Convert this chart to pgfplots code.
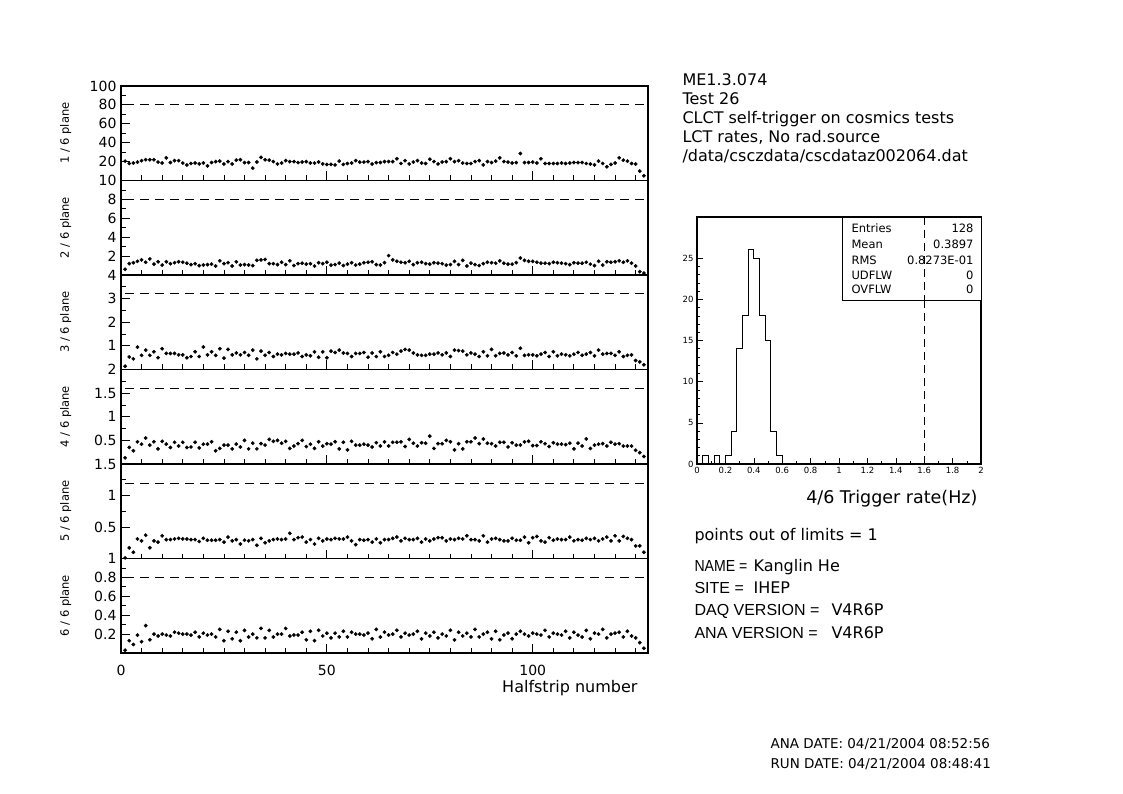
\documentclass[border=0pt]{standalone}
\usepackage{fontspec}
\setmainfont{DejaVu Sans}
\newfontfamily\capsfont{Liberation Sans}
\usepackage{graphicx}
\usepackage{pgfplots}
\pgfplotsset{compat=1.18}
\usepackage{pgfplotstable}

\newcommand\fA{\fontsize{16}{19}\selectfont}
\newcommand\fX{\fontsize{17.5}{19}\selectfont}
\newcommand\fB{\fontsize{14}{16}\selectfont}
\newcommand\fL{\fontsize{11.5}{13}\selectfont}
\newcommand\fS{\fontsize{8.5}{10}\selectfont}
\newcommand\fT{\fontsize{11.5}{13}\selectfont}
\newcommand\fD{\fontsize{13.5}{15}\selectfont}

% halfstrip rates for the six plane multiplicities
\pgfplotstableread{
x p1 p2 p3 p4 p5 p6
1 20.5 0.60 0.14 0.13 0.01 0.03
2 18 1.20 0.53 0.35 0.17 0.13
3 18.5 1.30 0.45 0.28 0.10 0.09
4 19.5 1.45 0.95 0.47 0.31 0.19
5 21 1.60 0.60 0.42 0.28 0.12
6 22 1.35 0.82 0.55 0.37 0.29
7 22 1.70 0.60 0.40 0.17 0.14
8 22 1.15 0.75 0.47 0.28 0.20
9 19.5 1.40 0.50 0.32 0.26 0.18
10 18.5 1.05 0.88 0.48 0.36 0.20
11 24 1.40 0.68 0.42 0.30 0.19
12 19 1.20 0.68 0.35 0.30 0.18
13 21 1.30 0.68 0.46 0.31 0.22
14 21 1.40 0.62 0.38 0.32 0.21
15 18.5 1.35 0.62 0.46 0.31 0.20
16 16.5 1.25 0.50 0.35 0.31 0.20
17 18 1.10 0.55 0.36 0.30 0.19
18 18.5 1.20 0.75 0.46 0.30 0.22
19 17.5 1.00 0.55 0.34 0.27 0.17
20 18.5 1.05 0.95 0.42 0.32 0.21
21 15.5 1.10 0.62 0.42 0.29 0.19
22 19 1.15 0.75 0.47 0.29 0.20
23 20 0.95 0.60 0.28 0.29 0.17
24 20.5 1.50 0.88 0.33 0.30 0.25
25 17.5 1.20 0.48 0.40 0.26 0.13
26 20 1.30 0.85 0.40 0.34 0.23
27 17.5 0.95 0.62 0.32 0.28 0.15
28 21.5 1.40 0.70 0.42 0.30 0.22
29 22 1.05 0.62 0.36 0.23 0.13
30 19 1.10 0.72 0.50 0.29 0.24
31 19 1.05 0.60 0.32 0.28 0.17
32 13 1.00 0.82 0.44 0.30 0.20
33 19.5 1.55 0.45 0.32 0.21 0.16
34 24.5 1.60 0.78 0.43 0.32 0.26
35 22 1.65 0.60 0.40 0.25 0.16
36 21.5 1.20 0.72 0.52 0.28 0.24
37 20 1.20 0.55 0.48 0.30 0.17
38 17.5 1.10 0.65 0.50 0.31 0.20
39 18.5 1.35 0.62 0.44 0.30 0.20
40 21 1.10 0.68 0.48 0.31 0.26
41 20 1.50 0.65 0.33 0.40 0.18
42 20 1.00 0.65 0.38 0.30 0.19
43 19 1.20 0.70 0.43 0.33 0.19
44 19.5 1.25 0.55 0.50 0.34 0.22
45 20 1.15 0.62 0.37 0.26 0.14
46 18.5 1.20 0.58 0.42 0.30 0.23
47 18.5 0.95 0.75 0.33 0.23 0.13
48 19.5 1.30 0.52 0.47 0.32 0.24
49 17.5 1.20 0.75 0.38 0.28 0.18
50 17 1.35 0.50 0.43 0.31 0.21
51 17 1.05 0.78 0.42 0.30 0.16
52 16.5 1.10 0.72 0.47 0.32 0.21
53 20.5 1.25 0.82 0.32 0.31 0.17
54 17 1.00 0.70 0.46 0.31 0.23
55 18 1.15 0.68 0.30 0.34 0.17
56 18.5 1.30 0.55 0.48 0.28 0.22
57 21 1.05 0.68 0.40 0.22 0.20
58 19.5 1.15 0.68 0.40 0.30 0.20
59 19.5 1.30 0.72 0.42 0.29 0.19
60 20 1.35 0.52 0.40 0.30 0.21
61 17.5 1.40 0.70 0.36 0.26 0.15
62 19 1.10 0.55 0.45 0.31 0.25
63 19 1.05 0.75 0.38 0.25 0.17
64 20 1.30 0.55 0.47 0.30 0.22
65 20 2.05 0.60 0.38 0.30 0.19
66 20 1.60 0.72 0.46 0.32 0.20
67 23 1.45 0.65 0.46 0.34 0.24
68 18 1.35 0.78 0.47 0.28 0.17
69 21 1.30 0.85 0.37 0.32 0.21
70 17.5 1.45 0.82 0.52 0.30 0.19
71 19.5 1.10 0.70 0.44 0.30 0.20
72 21 1.30 0.62 0.38 0.32 0.23
73 18.5 1.35 0.60 0.45 0.26 0.15
74 18 1.20 0.60 0.44 0.31 0.21
75 22.5 1.15 0.65 0.59 0.28 0.18
76 20 1.30 0.65 0.33 0.31 0.22
77 17.5 1.25 0.70 0.43 0.33 0.16
78 19.5 1.20 0.62 0.43 0.33 0.20
79 20 1.05 0.70 0.50 0.28 0.18
80 23 1.10 0.55 0.47 0.31 0.24
81 20 1.45 0.82 0.30 0.30 0.14
82 21 1.10 0.80 0.43 0.32 0.22
83 18.5 1.55 0.78 0.32 0.31 0.18
84 18 0.95 0.62 0.47 0.36 0.21
85 18 1.25 0.70 0.47 0.30 0.17
86 20 1.10 0.65 0.55 0.30 0.25
87 21 1.00 0.55 0.43 0.28 0.17
88 16.5 1.20 0.75 0.53 0.36 0.20
89 20 1.35 0.58 0.44 0.26 0.22
90 19 1.30 0.85 0.43 0.31 0.15
91 20.5 1.25 0.58 0.38 0.32 0.23
92 24 1.50 0.68 0.46 0.30 0.14
93 20 1.25 0.70 0.46 0.28 0.19
94 19.5 1.15 0.62 0.36 0.28 0.21
95 18.5 1.15 0.72 0.45 0.32 0.15
96 19 1.30 0.58 0.40 0.29 0.20
97 28.5 1.80 0.90 0.40 0.29 0.23
98 19 1.55 0.60 0.47 0.34 0.20
99 19 1.45 0.62 0.48 0.25 0.18
100 19.5 1.45 0.62 0.39 0.33 0.21
101 18.5 1.35 0.58 0.39 0.35 0.20
102 23 1.25 0.65 0.47 0.28 0.19
103 18 1.25 0.72 0.43 0.26 0.24
104 18 1.20 0.55 0.37 0.33 0.17
105 18 1.35 0.75 0.45 0.29 0.21
106 18 1.30 0.58 0.42 0.31 0.20
107 18.5 1.25 0.65 0.42 0.30 0.19
108 18 1.20 0.62 0.41 0.30 0.23
109 18.5 1.10 0.58 0.44 0.34 0.16
110 19 1.30 0.65 0.32 0.28 0.22
111 19 1.25 0.72 0.44 0.30 0.19
112 19 1.25 0.60 0.38 0.29 0.17
113 18 1.35 0.65 0.53 0.32 0.24
114 17.5 1.15 0.72 0.33 0.30 0.15
115 16.5 1.00 0.58 0.40 0.32 0.21
116 20.5 1.45 0.82 0.42 0.28 0.20
117 18 1.05 0.65 0.43 0.31 0.25
118 14.5 1.40 0.68 0.38 0.34 0.16
119 17 1.35 0.68 0.46 0.28 0.20
120 18.5 1.40 0.60 0.42 0.36 0.21
121 24 1.50 0.75 0.43 0.28 0.22
122 21.5 1.35 0.55 0.38 0.35 0.17
123 20.5 1.50 0.60 0.38 0.32 0.23
124 18 1.25 0.62 0.38 0.30 0.18
125 17.5 0.95 0.38 0.29 0.20 0.16
126 10 0.35 0.32 0.24 0.20 0.11
127 5 0.20 0.20 0.16 0.10 0.05
}\rates

\pgfplotsset{
  plane/.style={
    scale only axis, width=527pt, height=94.5pt,
    xmin=0, xmax=128, ymin=0, clip=false,
    axis line style={line width=1.4pt},
    xtick={0,50,100},
    minor xtick={5,10,15,20,25,30,35,40,45,55,60,65,70,75,80,85,90,95,105,110,115,120,125},
    xtick pos=lower, ytick pos=left, tick align=inside,
    major tick length=9pt, minor tick length=5pt,
    every tick/.style={black, line width=0.8pt},
    xticklabels={}, minor y tick num=1,
    yticklabel style={font=\fB, xshift=-1pt},
    every axis y label/.style={at={(axis description cs:-0.105,0.5)}, rotate=90, anchor=center, font=\fL},
  },
  dots/.style={only marks, mark=*, mark size=1.7pt, black},
  limit/.style={black, line width=0.8pt, dash pattern=on 9pt off 6pt},
}

\begin{document}
\begin{tikzpicture}[x=1pt,y=1pt]
\useasboundingbox (0,0) rectangle (1123,793);
\fill[white] (0,0) rectangle (1123,793);

% the zero of each panel sits under the top label of the panel below
\begin{axis}[plane, at={(121pt,707pt)}, anchor=north west, ymax=100,
  ytick={20,40,60,80,100}, yticklabels={20,40,60,80,100}, ylabel={1 / 6 plane}]
  \addplot[limit] coordinates {(1,80) (128,80)};
  \addplot[dots] table[x=x, y=p1] {\rates};
\end{axis}

\begin{axis}[plane, at={(121pt,612.5pt)}, anchor=north west, ymax=10,
  ytick={2,4,6,8,10}, yticklabels={2,4,6,8,10}, ylabel={2 / 6 plane}]
  \addplot[limit] coordinates {(1,8) (128,8)};
  \addplot[dots] table[x=x, y=p2] {\rates};
\end{axis}

\begin{axis}[plane, at={(121pt,518pt)}, anchor=north west, ymax=4,
  ytick={1,2,3,4}, yticklabels={1,2,3,4}, ylabel={3 / 6 plane}]
  \addplot[limit] coordinates {(1,3.2) (128,3.2)};
  \addplot[dots] table[x=x, y=p3] {\rates};
\end{axis}

\begin{axis}[plane, at={(121pt,423.5pt)}, anchor=north west, ymax=2,
  ytick={0.5,1,1.5,2}, yticklabels={0.5,1,1.5,2}, ylabel={4 / 6 plane}]
  \addplot[limit] coordinates {(1,1.6) (128,1.6)};
  \addplot[dots] table[x=x, y=p4] {\rates};
\end{axis}

\begin{axis}[plane, at={(121pt,329pt)}, anchor=north west, ymax=1.5,
  ytick={0.5,1,1.5}, yticklabels={0.5,1,1.5}, ylabel={5 / 6 plane}]
  \addplot[limit] coordinates {(1,1.2) (128,1.2)};
  \addplot[dots] table[x=x, y=p5] {\rates};
\end{axis}

\begin{axis}[plane, at={(121pt,234.5pt)}, anchor=north west, ymax=1,
  ytick={0.2,0.4,0.6,0.8,1}, yticklabels={0.2,0.4,0.6,0.8,1}, ylabel={6 / 6 plane},
  xticklabels={0,50,100}, xticklabel style={font=\fB, yshift=-9pt}]
  \addplot[limit] coordinates {(1,0.8) (128,0.8)};
  \addplot[dots] table[x=x, y=p6] {\rates};
\end{axis}
\node[anchor=base east, font=\fA] at (641,101) {Halfstrip number};

% 4/6 trigger rate distribution
\begin{axis}[scale only axis, at={(697pt,329pt)}, anchor=south west, width=284pt, height=247pt,
  xmin=0, xmax=2, ymin=0, ymax=30,
  axis line style={line width=1.1pt},
  xtick={0,0.2,0.4,0.6,0.8,1,1.2,1.4,1.6,1.8,2},
  xticklabels={0,0.2,0.4,0.6,0.8,1,1.2,1.4,1.6,1.8,2},
  ytick={0,5,10,15,20,25}, yticklabels={0,5,10,15,20,25},
  minor x tick num=1, minor y tick num=4,
  xtick pos=lower, ytick pos=left, tick align=inside,
  major tick length=6pt, minor tick length=3pt,
  every tick/.style={black, line width=0.6pt},
  ticklabel style={font=\fS}]
  \addplot[const plot, black, line width=0.9pt] coordinates {
    (0,0) (0.04,1) (0.08,0) (0.12,1) (0.16,0) (0.20,1) (0.24,4) (0.28,14)
    (0.32,18) (0.36,26) (0.40,25) (0.44,18) (0.48,15) (0.52,4) (0.56,1) (0.60,0) (2,0)};
  \addplot[black, line width=0.8pt, dash pattern=on 8pt off 5pt] coordinates {(1.6,0) (1.6,30)};
\end{axis}
\draw[line width=0.8pt, fill=white] (842,576) rectangle (981,493);
\draw[black, line width=0.8pt, dash pattern=on 8pt off 5pt] (924.2,576) -- (924.2,493);
\begin{scope}[font=\fT]
  \node[anchor=base west] at (848,560) {Entries};
  \node[anchor=base east] at (977,560) {128};
  \node[anchor=base west] at (848,544) {Mean};
  \node[anchor=base east] at (977,544) {0.3897};
  \node[anchor=base west] at (848,528) {RMS};
  \node[anchor=base east] at (977,528) {0.8273E-01};
  \node[anchor=base west] at (848,513) {UDFLW};
  \node[anchor=base east] at (977,513) {0};
  \node[anchor=base west] at (848,499) {OVFLW};
  \node[anchor=base east] at (977,499) {0};
\end{scope}
\node[anchor=base east, font=\fX] at (981,290) {4/6 Trigger rate(Hz)};

% run information
\begin{scope}[font=\fA]
  \node[anchor=base west] at (679,707) {ME1.3.074};
  \node[anchor=base west] at (679,688) {Test 26};
  \node[anchor=base west] at (679,669) {CLCT self-trigger on cosmics tests};
  \node[anchor=base west] at (679,650) {LCT rates, No rad.source};
  \node[anchor=base west] at (679,631) {/data/csczdata/cscdataz002064.dat};
  \node[anchor=base west] at (691,253) {points out of limits = 1};
  \node[anchor=base west] at (691,222) {\capsfont\scalebox{0.88}[1]{NAME =}};
  \node[anchor=base west] at (750,222) {Kanglin He};
  \node[anchor=base west] at (691,200) {\capsfont SITE =};
  \node[anchor=base west] at (750,200) {IHEP};
  \node[anchor=base west] at (691,178) {\capsfont DAQ VERSION =};
  \node[anchor=base west] at (828,178) {V4R6P};
  \node[anchor=base west] at (691,155) {\capsfont ANA VERSION =};
  \node[anchor=base west] at (828,155) {V4R6P};
\end{scope}
\node[anchor=base west, font=\fD] at (767,45) {ANA DATE: 04/21/2004 08:52:56};
\node[anchor=base west, font=\fD] at (767,25) {RUN DATE: 04/21/2004 08:48:41};
\end{tikzpicture}
\end{document}
